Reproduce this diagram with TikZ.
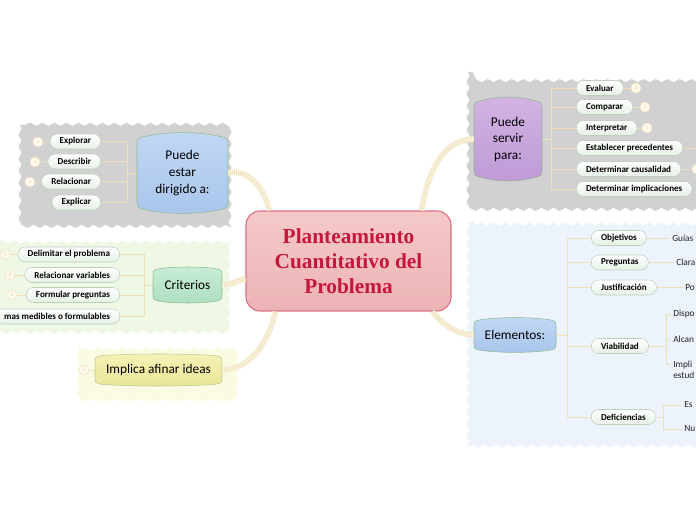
\documentclass[tikz,border=0pt]{standalone}
\usepackage{fontspec}
\setmainfont{Carlito}
\newfontfamily\titlefont{Liberation Serif}
\usetikzlibrary{calc,decorations.pathmorphing}

\definecolor{graybg}{HTML}{D1D1D1}
\definecolor{greenbg}{HTML}{EEF8E5}
\definecolor{yellowbg}{HTML}{FBFBE4}
\definecolor{bluebg}{HTML}{EDF3FB}
\definecolor{bluetop}{HTML}{C1D8F4}
\definecolor{bluebot}{HTML}{A9C5EC}
\definecolor{greentop}{HTML}{C8EDD7}
\definecolor{greenbot}{HTML}{AEDEC2}
\definecolor{yellowtop}{HTML}{F5F2B6}
\definecolor{yellowbot}{HTML}{EAE597}
\definecolor{purpletop}{HTML}{D2B3E4}
\definecolor{purplebot}{HTML}{BF9AD6}
\definecolor{pinktop}{HTML}{F5C9C9}
\definecolor{pinkbot}{HTML}{ECB3B5}
\definecolor{pinkline}{HTML}{DA6F80}
\definecolor{titlecol}{HTML}{C4173A}
\definecolor{boxline}{HTML}{8FB98F}
\definecolor{yellowline}{HTML}{B9C98E}
\definecolor{kidline}{HTML}{BCD0BC}
\definecolor{kidshade}{HTML}{E6F0E6}
\definecolor{badgeline}{HTML}{F3E4BF}
\definecolor{badgefill}{HTML}{FFF9EC}
\definecolor{badgetext}{HTML}{E9D49C}
\definecolor{twigcol}{HTML}{EEDFB9}
\definecolor{limblight}{HTML}{FBF5E6}
\definecolor{limbdark}{HTML}{EFE0B8}
\definecolor{leaftext}{HTML}{222222}

\begin{document}
\begin{tikzpicture}[x=0.75pt,y=0.75pt,yscale=-1,xscale=1,
  wavy/.style={decorate,decoration={snake,amplitude=1.2pt,segment length=9pt}},
  kid/.style={draw=kidline,rounded corners=5.5pt,top color=white,bottom color=kidshade,inner xsep=7.3pt,inner ysep=0pt,minimum height=11.25pt,font=\bfseries\fontsize{6.8}{8}\selectfont},
  badge/.style={circle,draw=badgeline,fill=badgefill,inner sep=0pt,minimum size=7.5pt,text=badgetext,font=\fontsize{4}{4}\selectfont},
  twig/.style={draw=twigcol,line width=0.6pt},
  limb/.style={line width=4.2pt,draw=limblight,postaction={draw=limbdark,dash pattern=on 0.6pt off 0.9pt}},
  leaf/.style={anchor=west,inner sep=1.5pt,font=\fontsize{7}{8.5}\selectfont,text=leaftext,align=left},
  headtext/.style={inner sep=0pt,font=\fontsize{10}{12.4}\selectfont,align=center}
]
\useasboundingbox (0,0) rectangle (696,520);
\clip (0,0) rectangle (696,520);
\fill [white] (0,0) rectangle (696,520);

%Shape: Wavy Rect (dirigido)
\fill [graybg,wavy] (20,125) rectangle (232,222);
%Shape: Wavy Rect (criterios)
\fill [greenbg,wavy] (-5,240) rectangle (230,330);
%Shape: Wavy Rect (implica)
\fill [yellowbg,wavy] (78,347) rectangle (230,397);
%Shape: Wavy Rect (servir)
\fill [graybg,wavy] (468,72) rectangle (705,203);
%Shape: Wavy Rect (elementos)
\fill [bluebg,wavy] (468,222) rectangle (705,447);

%Shape: Bulged Box (dirigido)
\draw [boxline,top color=bluetop,bottom color=bluebot] (137,146) .. controls (137,138) .. (147,136) .. controls (167,131.5) and (198,131.5) .. (218,136) .. controls (228,138) .. (228,146) -- (228,200) .. controls (228,208) .. (218,210) .. controls (198,214.5) and (167,214.5) .. (147,210) .. controls (137,208) .. (137,200) -- cycle ;
%Shape: Bulged Box (criterios)
\draw [boxline,top color=greentop,bottom color=greenbot] (153,276) .. controls (153,270) .. (161,268.5) .. controls (176,266.5) and (199,266.5) .. (214,268.5) .. controls (222,270) .. (222,276) -- (222,294) .. controls (222,300) .. (214,301.5) .. controls (199,303.5) and (176,303.5) .. (161,301.5) .. controls (153,300) .. (153,294) -- cycle ;
%Shape: Bulged Box (implica)
\draw [yellowline,top color=yellowtop,bottom color=yellowbot] (95,363) .. controls (95,357) .. (103,355.5) .. controls (135,353.5) and (182,353.5) .. (214,355.5) .. controls (222,357) .. (222,363) -- (222,377) .. controls (222,383) .. (214,384.5) .. controls (182,386.5) and (135,386.5) .. (103,384.5) .. controls (95,383) .. (95,377) -- cycle ;
%Shape: Bulged Box (servir)
\draw [boxline,top color=purpletop,bottom color=purplebot] (474,110) .. controls (474,102) .. (484,100) .. controls (498,96) and (518,96) .. (532,100) .. controls (542,102) .. (542,110) -- (542,168) .. controls (542,176) .. (532,178) .. controls (518,182) and (498,182) .. (484,178) .. controls (474,176) .. (474,168) -- cycle ;
%Shape: Bulged Box (elementos)
\draw [boxline,top color=bluetop,bottom color=bluebot] (474,327) .. controls (474,321) .. (482,319.5) .. controls (501,317) and (529,317) .. (548,319.5) .. controls (556,321) .. (556,327) -- (556,343) .. controls (556,349) .. (548,350.5) .. controls (529,353) and (501,353) .. (482,350.5) .. controls (474,349) .. (474,343) -- cycle ;

% Central Node
\draw (348.5,261) node [draw=pinkline,line width=0.8pt,rounded corners=10.5pt,top color=pinktop,bottom color=pinkbot,minimum width=153.75pt,minimum height=75pt,inner sep=0pt,align=center,text=titlecol,font=\titlefont\bfseries\fontsize{16}{18.75}\selectfont] (plan) {Planteamiento\\Cuantitativo del\\Problema};

% Text Node
\draw (182.5,173) node [headtext,minimum width=68.25pt,minimum height=57.75pt] (dirig) {Puede\\estar\\dirigido a:};
% Text Node
\draw (187.5,285) node [headtext,minimum width=51.75pt,minimum height=24.75pt] (crit) {Criterios};
% Text Node
\draw (158.5,370) node [headtext,minimum width=95.25pt,minimum height=21pt] (impl) {Implica afinar ideas};
% Text Node
\draw (508,139) node [headtext,minimum width=51pt,minimum height=60pt] (serv) {Puede\\servir\\para:};
% Text Node
\draw (515,335) node [headtext,minimum width=61.5pt,minimum height=24pt] (elem) {Elementos:};

% Main limbs
\draw [limb] (dirig.east) .. controls (248,168) and (264,188) .. ($(plan.north west)!0.117!(plan.north east)$) ;
\draw [limb] ($(plan.north west)!0.854!(plan.north east)$) .. controls (428,172) and (442,140) .. (serv.west) ;
\draw [limb] (crit.east) .. controls (234,285) and (238,279) .. ($(plan.west)+(0,18)$) ;
\draw [limb] (impl.east) .. controls (248,370) and (268,345) .. ($(plan.south west)!0.146!(plan.south east)$) ;
\draw [limb] ($(plan.south west)!0.907!(plan.south east)$) .. controls (446,328) and (458,334) .. (elem.west) ;

% Kids: dirigido
\draw (101,141.5) node [kid,anchor=east] (expl) {Explorar};
\draw (101,161.5) node [kid,anchor=east] (desc) {Describir};
\draw (101,181.5) node [kid,anchor=east] (rela) {Relacionar};
\draw (101,202.5) node [kid,anchor=east] (expc) {Explicar};
\draw (38,142) node [badge] (bexpl) {1};
\draw (35,162) node [badge] (bdesc) {1};
\draw (30,182) node [badge] (brela) {1};
\draw [twig] (bexpl) -- (expl);
\draw [twig] (bdesc) -- (desc);
\draw [twig] (brela) -- (rela);
\draw [twig] (dirig.west) -- ++(-9,0) |- (expl);
\draw [twig] (dirig.west) -- ++(-9,0) |- (desc);
\draw [twig] (dirig.west) -- ++(-9,0) |- (rela);
\draw [twig] (dirig.west) -- ++(-9,0) |- (expc);

% Kids: criterios
\draw (120,254.5) node [kid,anchor=east] (deli) {Delimitar el problema};
\draw (120,275) node [kid,anchor=east] (relv) {Relacionar variables};
\draw (120,295) node [kid,anchor=east] (form) {Formular preguntas};
\draw (120,316.5) node [kid,anchor=east] (medi) {mas medibles o formulables};
\draw (5,254.5) node [badge] (bdeli) {1};
\draw (10,275) node [badge] (brelv) {1};
\draw (12,295) node [badge] (bform) {1};
\draw [twig] (bdeli) -- (deli);
\draw [twig] (brelv) -- (relv);
\draw [twig] (bform) -- (form);
\draw [twig] (crit.west) -- ++(-8,0) |- (deli);
\draw [twig] (crit.west) -- ++(-8,0) |- (relv);
\draw [twig] (crit.west) -- ++(-8,0) |- (form);
\draw [twig] (crit.west) -- ++(-8,0) |- (medi);

% Badge: implica
\draw (84,370) node [badge] (bimpl) {1};
\draw [twig] (bimpl) -- (impl);

% Kids: servir
\draw (576,88) node [kid,anchor=west] (eval) {Evaluar};
\draw (576,107) node [kid,anchor=west] (comp) {Comparar};
\draw (576,128) node [kid,anchor=west] (inte) {Interpretar};
\draw (576,148) node [kid,anchor=west] (esta) {Establecer precedentes};
\draw (576,169) node [kid,anchor=west] (caus) {Determinar causalidad};
\draw (576,189) node [kid,anchor=west] (impc) {Determinar implicaciones};
\draw (636,88) node [badge] (beval) {2};
\draw (645,107) node [badge] (bcomp) {1};
\draw (647,128) node [badge] (binte) {1};
\draw (702,148) node [badge] (besta) {};
\draw (697,169) node [badge] (bcaus) {};
\draw [twig] (eval) -- (beval);
\draw [twig] (comp) -- (bcomp);
\draw [twig] (inte) -- (binte);
\draw [twig] (esta) -- (besta);
\draw [twig] (caus) -- (bcaus);
\draw [twig] (serv.east) -- ++(9,0) |- (eval);
\draw [twig] (serv.east) -- ++(9,0) |- (comp);
\draw [twig] (serv.east) -- ++(9,0) |- (inte);
\draw [twig] (serv.east) -- ++(9,0) |- (esta);
\draw [twig] (serv.east) -- ++(9,0) |- (caus);
\draw [twig] (serv.east) -- ++(9,0) |- (impc);

% Kids: elementos
\draw (591,238) node [kid,anchor=west] (obje) {Objetivos};
\draw (591,262.5) node [kid,anchor=west] (preg) {Preguntas};
\draw (591,287.5) node [kid,anchor=west] (just) {Justificación};
\draw (591,346) node [kid,anchor=west] (viab) {Viabilidad};
\draw (591,417) node [kid,anchor=west] (defi) {Deficiencias};
\draw [twig] (elem.east) -- ++(11,0) |- (obje);
\draw [twig] (elem.east) -- ++(11,0) |- (preg);
\draw [twig] (elem.east) -- ++(11,0) |- (just);
\draw [twig] (elem.east) -- ++(11,0) |- (viab);
\draw [twig] (elem.east) -- ++(11,0) |- (defi);

% Leaves
\draw (670,238) node [leaf] (guia) {Guías};
\draw (674,262.5) node [leaf] (clar) {Clara};
\draw (683,287.5) node [leaf] (porq) {Po};
\draw (671,314) node [leaf] (disp) {Dispo};
\draw (671,339) node [leaf] (alca) {Alcan};
\draw (671,370) node [leaf] (impli) {Impli\\estud};
\draw (682,405) node [leaf] (estu) {Es};
\draw (682,429) node [leaf] (nuev) {Nu};
\draw [twig] (obje) -- (guia);
\draw [twig] (preg) -- (clar);
\draw [twig] (just) -- (porq);
\draw [twig] (viab.east) -- ++(18,0) |- (disp);
\draw [twig] (viab.east) -- ++(18,0) |- (alca);
\draw [twig] (viab.east) -- ++(18,0) |- ([yshift=-4.5pt]impli.west);
\draw [twig] (defi.east) -- ++(8,0) |- (estu);
\draw [twig] (defi.east) -- ++(8,0) |- (nuev);

\end{tikzpicture}
\end{document}
